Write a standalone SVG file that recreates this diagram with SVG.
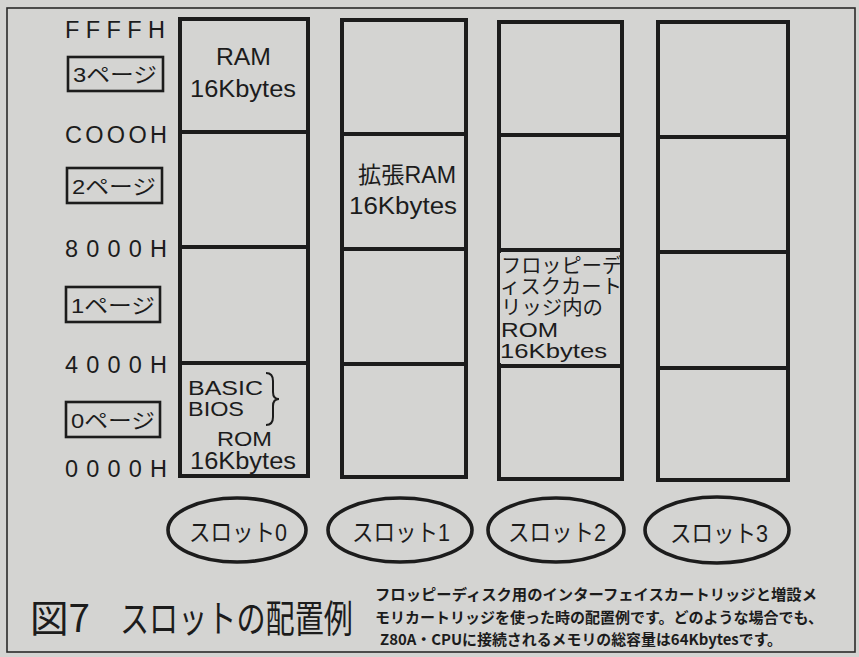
<svg xmlns="http://www.w3.org/2000/svg" width="859" height="657" viewBox="0 0 859 657">
<style>
.bg{fill:#d4d4d2}
.frame{fill:none;stroke:#2a2a2a;stroke-width:1.6}
.col{fill:none;stroke:#1c1c1c;stroke-width:4;stroke-linejoin:miter}
.sep{stroke:#1c1c1c;stroke-width:4}
.pg{fill:none;stroke:#1c1c1c;stroke-width:2.6}
.ell{fill:none;stroke:#1c1c1c;stroke-width:3.6}
.t{font-family:'Liberation Sans','Noto Sans CJK JP',sans-serif;fill:#1c1c1c}
.addr{font-size:23.5px}
.lbl{font-size:23px}
.sm{font-size:20px}
.pgt{font-size:21px}
.sl{font-size:24px}
.cap{font-family:'Noto Sans CJK JP',sans-serif;font-size:38px;fill:#1c1c1c}
.note{font-family:'Noto Sans CJK JP',sans-serif;font-size:15px;font-weight:bold;fill:#1c1c1c}
.brace{fill:none;stroke:#1c1c1c;stroke-width:2}
</style>
<rect class="bg" x="0" y="0" width="859" height="657"/>
<rect class="frame" x="7" y="8" width="848" height="644"/>

<g id="addresses">
<text class="t addr" x="65" y="38" textLength="100" lengthAdjust="spacing">FFFFH</text>
<text class="t addr" x="65" y="143" textLength="102" lengthAdjust="spacing">COOOH</text>
<text class="t addr" x="65" y="257" textLength="102" lengthAdjust="spacing">8000H</text>
<text class="t addr" x="65" y="373" textLength="102" lengthAdjust="spacing">4000H</text>
<text class="t addr" x="65" y="477" textLength="102" lengthAdjust="spacing">0000H</text>
</g>

<g id="page3"><rect class="pg" x="68" y="57" width="95" height="34"/><text class="t pgt" x="73" y="82" textLength="84" lengthAdjust="spacingAndGlyphs">3ページ</text></g>
<g id="page2"><rect class="pg" x="67" y="168" width="95" height="35"/><text class="t pgt" x="72" y="194" textLength="84" lengthAdjust="spacingAndGlyphs">2ページ</text></g>
<g id="page1"><rect class="pg" x="66" y="287" width="94" height="35"/><text class="t pgt" x="71" y="313" textLength="84" lengthAdjust="spacingAndGlyphs">1ページ</text></g>
<g id="page0"><rect class="pg" x="66" y="402" width="94" height="35"/><text class="t pgt" x="71" y="428" textLength="84" lengthAdjust="spacingAndGlyphs">0ページ</text></g>

<g id="slot0col">
<rect class="col" x="180" y="19" width="128" height="457"/>
<line class="sep" x1="180" y1="132" x2="308" y2="132"/>
<line class="sep" x1="180" y1="247" x2="308" y2="247"/>
<line class="sep" x1="180" y1="363" x2="308" y2="363"/>
<text class="t lbl" x="216" y="65" textLength="55" lengthAdjust="spacingAndGlyphs">RAM</text>
<text class="t lbl" x="190" y="97" textLength="106" lengthAdjust="spacingAndGlyphs">16Kbytes</text>
<text class="t sm" x="188" y="395" textLength="75" lengthAdjust="spacingAndGlyphs">BASIC</text>
<text class="t sm" x="188" y="416" textLength="56" lengthAdjust="spacingAndGlyphs">BIOS</text>
<path class="brace" d="M266,373 Q273,373 273,381 L273,392 Q273,399 279,399 Q273,399 273,406 L273,417 Q273,425 266,425"/>
<text class="t sm" x="217" y="446" textLength="55" lengthAdjust="spacingAndGlyphs">ROM</text>
<text class="t lbl" x="190" y="469" textLength="106" lengthAdjust="spacingAndGlyphs">16Kbytes</text>
</g>

<g id="slot1col">
<rect class="col" x="342" y="20" width="124" height="457"/>
<line class="sep" x1="342" y1="134" x2="466" y2="134"/>
<line class="sep" x1="342" y1="249" x2="466" y2="249"/>
<line class="sep" x1="342" y1="364" x2="466" y2="364"/>
<text class="t lbl" x="358" y="183" textLength="98" lengthAdjust="spacingAndGlyphs">拡張RAM</text>
<text class="t lbl" x="349" y="214" textLength="108" lengthAdjust="spacingAndGlyphs">16Kbytes</text>
</g>

<g id="slot2col">
<rect class="col" x="499" y="22" width="123" height="457"/>
<line class="sep" x1="499" y1="135" x2="622" y2="135"/>
<line class="sep" x1="499" y1="250" x2="622" y2="250"/>
<line class="sep" x1="499" y1="366" x2="622" y2="366"/>
<rect x="500" y="253" width="120" height="110" class="bg"/>
<text class="t sm" x="501" y="273" textLength="121" lengthAdjust="spacingAndGlyphs">フロッピーデ</text>
<text class="t sm" x="500" y="294" textLength="122" lengthAdjust="spacingAndGlyphs">ィスクカート</text>
<text class="t sm" x="501" y="315" textLength="102" lengthAdjust="spacingAndGlyphs">リッジ内の</text>
<text class="t sm" x="501" y="337" textLength="57" lengthAdjust="spacingAndGlyphs">ROM</text>
<text class="t sm" x="500" y="358" textLength="107" lengthAdjust="spacingAndGlyphs">16Kbytes</text>
</g>

<g id="slot3col">
<rect class="col" x="658" y="22" width="130" height="458"/>
<line class="sep" x1="658" y1="137" x2="788" y2="137"/>
<line class="sep" x1="658" y1="252" x2="788" y2="252"/>
<line class="sep" x1="658" y1="368" x2="788" y2="368"/>
</g>

<g id="slot0"><ellipse class="ell" cx="237" cy="530" rx="69" ry="32"/><text class="t sl" x="238" y="541" text-anchor="middle" textLength="98" lengthAdjust="spacingAndGlyphs">スロット0</text></g>
<g id="slot1"><ellipse class="ell" cx="400" cy="530" rx="72" ry="32"/><text class="t sl" x="401" y="541" text-anchor="middle" textLength="98" lengthAdjust="spacingAndGlyphs">スロット1</text></g>
<g id="slot2"><ellipse class="ell" cx="556" cy="530" rx="68" ry="32"/><text class="t sl" x="557" y="541" text-anchor="middle" textLength="98" lengthAdjust="spacingAndGlyphs">スロット2</text></g>
<g id="slot3"><ellipse class="ell" cx="717" cy="530" rx="72" ry="33"/><text class="t sl" x="719" y="542" text-anchor="middle" textLength="98" lengthAdjust="spacingAndGlyphs">スロット3</text></g>

<g id="caption">
<text class="cap" x="30" y="632" textLength="60" lengthAdjust="spacingAndGlyphs">図7</text>
<text class="cap" x="120" y="632" textLength="233" lengthAdjust="spacingAndGlyphs">スロットの配置例</text>
<text class="note" x="375" y="600" textLength="442" lengthAdjust="spacingAndGlyphs">フロッピーディスク用のインターフェイスカートリッジと増設メ</text>
<text class="note" x="375" y="623" textLength="448" lengthAdjust="spacingAndGlyphs">モリカートリッジを使った時の配置例です。どのような場合でも、</text>
<text class="note" x="380" y="645" textLength="402" lengthAdjust="spacingAndGlyphs">Z80A・CPUに接続されるメモリの総容量は64Kbytesです。</text>
</g>
</svg>
